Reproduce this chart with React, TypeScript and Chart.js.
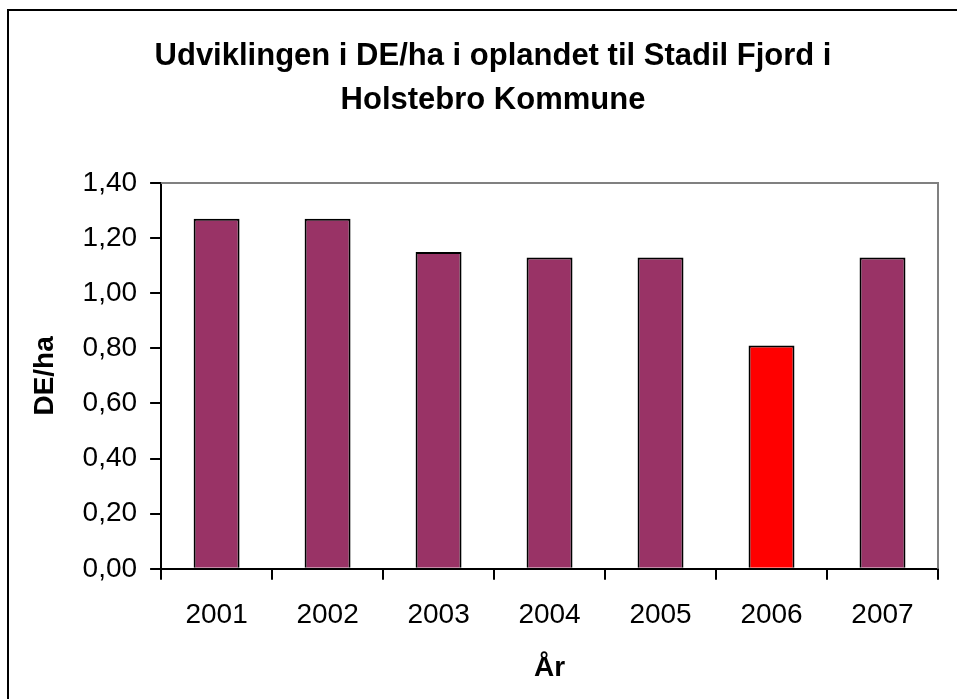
import React, { useEffect, useRef } from 'react';
import { Chart, registerables } from 'chart.js';

Chart.register(...registerables);

const years = ['2001', '2002', '2003', '2004', '2005', '2006', '2007'];
const deHa = [1.27, 1.27, 1.15, 1.13, 1.13, 0.81, 1.13];
const barColors = ['#993366', '#993366', '#993366', '#993366', '#993366', '#FF0000', '#993366'];
const yTickLabels = ['0,00', '0,20', '0,40', '0,60', '0,80', '1,00', '1,20', '1,40'];
const titleLines = ['Udviklingen i DE/ha i oplandet til Stadil Fjord i', 'Holstebro Kommune'];
const xTitle = 'År';
const yTitle = 'DE/ha';

const FONT = "'Liberation Sans', Arial, Helvetica, sans-serif";

const plotFrame = {
  id: 'plotFrame',
  beforeDatasetsDraw(chart: any) {
    const { ctx, chartArea } = chart;
    const { left, right, top, bottom } = chartArea;
    ctx.save();
    ctx.strokeStyle = '#808080';
    ctx.lineWidth = 2;
    ctx.beginPath();
    ctx.moveTo(left, top);
    ctx.lineTo(right, top);
    ctx.lineTo(right, bottom);
    ctx.stroke();
    ctx.restore();
  },
};

export default function App() {
  const canvasRef = useRef<HTMLCanvasElement | null>(null);

  useEffect(() => {
    if (!canvasRef.current) return;
    const chart = new Chart(canvasRef.current, {
      type: 'bar',
      data: {
        labels: years,
        datasets: [
          {
            label: yTitle,
            data: deHa,
            backgroundColor: barColors,
            borderColor: '#000000',
            borderWidth: 2,
            barPercentage: 0.414,
            categoryPercentage: 1,
          },
        ],
      },
      options: {
        animation: false,
        responsive: false,
        maintainAspectRatio: false,
        layout: { padding: { left: 39, right: 19, top: 0, bottom: 0 } },
        plugins: {
          legend: { display: false },
          tooltip: { enabled: false },
          title: {
            display: true,
            text: titleLines,
            color: '#000000',
            font: { family: FONT, size: 31, weight: 'bold', lineHeight: 44 / 31 },
            padding: { top: 23, bottom: 61 },
          },
        },
        scales: {
          x: {
            offset: true,
            grid: {
              offset: true,
              drawOnChartArea: false,
              drawTicks: true,
              tickLength: 11,
              color: '#000000',
              lineWidth: 2,
            },
            border: { display: true, color: '#000000', width: 2 },
            ticks: {
              color: '#000000',
              font: { family: FONT, size: 28 },
              padding: 19,
              maxRotation: 0,
              autoSkip: false,
            },
            title: {
              display: true,
              text: xTitle,
              color: '#000000',
              font: { family: FONT, size: 28, weight: 'bold' },
              padding: { top: 0, bottom: 14 },
            },
          },
          y: {
            min: 0,
            max: 1.4,
            grid: {
              drawOnChartArea: false,
              drawTicks: true,
              tickLength: 11,
              color: '#000000',
              lineWidth: 2,
            },
            border: { display: true, color: '#000000', width: 2 },
            ticks: {
              stepSize: 0.2,
              color: '#000000',
              font: { family: FONT, size: 28 },
              padding: 13,
              callback: (value: any) => yTickLabels[Math.round(Number(value) / 0.2)],
            },
            title: {
              display: true,
              text: yTitle,
              color: '#000000',
              font: { family: FONT, size: 28, weight: 'bold' },
              padding: { top: -20, bottom: 8 },
            },
          },
        },
      },
      plugins: [plotFrame],
    } as any);
    return () => chart.destroy();
  }, []);

  return (
    <div
      style={{
        position: 'fixed',
        left: 7,
        top: 9,
        right: 0,
        bottom: 0,
        borderTop: '2px solid #000',
        borderLeft: '2px solid #000',
        background: '#fff',
        overflow: 'hidden',
      }}
    >
      <canvas
        ref={canvasRef}
        width={948}
        height={688}
        style={{ position: 'absolute', left: 0, top: 0, width: 948, height: 688 }}
      />
    </div>
  );
}
